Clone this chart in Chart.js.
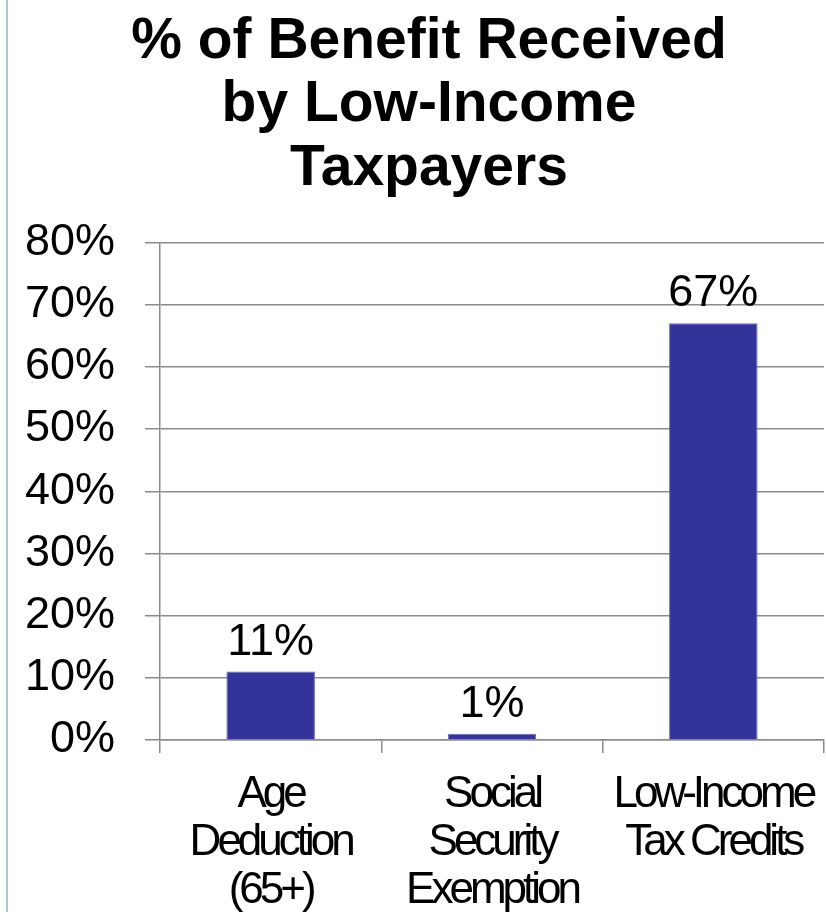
<!DOCTYPE html>
<html>
<head>
<meta charset="utf-8">
<script src="https://cdn.jsdelivr.net/npm/chart.js@4/dist/chart.umd.min.js"></script>
<style>
  html, body { margin: 0; padding: 0; background: #ffffff; }
  #wrap { position: relative; width: 826px; height: 912px; overflow: hidden; }
  #edge { position: absolute; left: 6px; top: 0; width: 2px; height: 912px; background: #a8c7ce; }
  canvas { position: absolute; left: 0; top: 0; }
</style>
</head>
<body>
<div id="wrap">
  <canvas id="c" width="826" height="912"></canvas>
  <div id="edge"></div>
</div>
<script>
const titleLines = ['% of Benefit Received', 'by Low-Income', 'Taxpayers'];
const categories = [
  ['Age', 'Deduction', '(65+)'],
  ['Social', 'Security', 'Exemption'],
  ['Low-Income', 'Tax Credits']
];
const benefitPct = [11, 1, 67];
const yTicks = [0, 10, 20, 30, 40, 50, 60, 70, 80];

const GRID = '#8c8c8c';
const BAR = '#333399';
const TITLE_SHIFT = 34;

const dataLabels = {
  id: 'dataLabels',
  afterDatasetsDraw(chart) {
    const ctx = chart.ctx;
    const meta = chart.getDatasetMeta(0);
    ctx.save();
    ctx.font = '45px "Liberation Sans", Arial, sans-serif';
    ctx.fillStyle = '#000';
    ctx.textAlign = 'center';
    ctx.textBaseline = 'alphabetic';
    meta.data.forEach((bar, i) => {
      ctx.fillText(chart.data.datasets[0].data[i] + '%', bar.x, bar.y - 17);
    });
    ctx.restore();
  }
};

// condensed category labels (reference uses a narrow face); title centred a little right
const layoutTweaks = {
  id: 'layoutTweaks',
  afterLayout(chart) {
    if (chart.titleBlock) chart.titleBlock.left = TITLE_SHIFT;
    const s = chart.scales.x;
    if (s && !s.__condensed) {
      const orig = s.drawLabels.bind(s);
      s.drawLabels = function (area) {
        const ctx = this.ctx;
        ctx.save();
        if ('letterSpacing' in ctx) ctx.letterSpacing = '-4px';
        orig(area);
        ctx.restore();
      };
      s.__condensed = true;
    }
  }
};

new Chart(document.getElementById('c'), {
  type: 'bar',
  data: {
    labels: categories,
    datasets: [{
      data: benefitPct,
      backgroundColor: BAR,
      borderColor: '#6a6ab2',
      borderWidth: 1,
      categoryPercentage: 1.0,
      barPercentage: 0.4
    }]
  },
  options: {
    responsive: false,
    animation: false,
    devicePixelRatio: 1,
    layout: { padding: { left: 0, right: 2, top: 0, bottom: 0 } },
    plugins: {
      legend: { display: false },
      tooltip: { enabled: false },
      title: {
        display: true,
        text: titleLines,
        color: '#000',
        font: { family: '"Liberation Sans", Arial, sans-serif', size: 57, weight: 'bold', lineHeight: 1.12 },
        padding: { top: 10, bottom: 41 }
      }
    },
    scales: {
      y: {
        min: 0,
        max: 80,
        afterFit(scale) { scale.width = 160; },
        afterBuildTicks(scale) { scale.ticks = yTicks.map(v => ({ value: v })); },
        ticks: {
          color: '#000',
          padding: 30,
          font: { family: '"Liberation Sans", Arial, sans-serif', size: 45, lineHeight: 1.2 },
          callback: v => v + '%'
        },
        grid: { color: GRID, lineWidth: 1.5, tickLength: 15, drawTicks: true },
        border: { display: true, color: GRID, width: 1.5 }
      },
      x: {
        afterFit(scale) { scale.height = 172; scale.paddingLeft = 0; scale.paddingRight = 0; },
        ticks: {
          color: '#000',
          padding: 18,
          autoSkip: false,
          maxRotation: 0,
          minRotation: 0,
          font: { family: '"Liberation Sans", Arial, sans-serif', size: 44, lineHeight: 1.09 }
        },
        grid: { color: GRID, lineWidth: 1.5, tickLength: 13, drawOnChartArea: false, offset: true },
        border: { display: true, color: GRID, width: 1.5 }
      }
    }
  },
  plugins: [dataLabels, layoutTweaks]
});
</script>
</body>
</html>
